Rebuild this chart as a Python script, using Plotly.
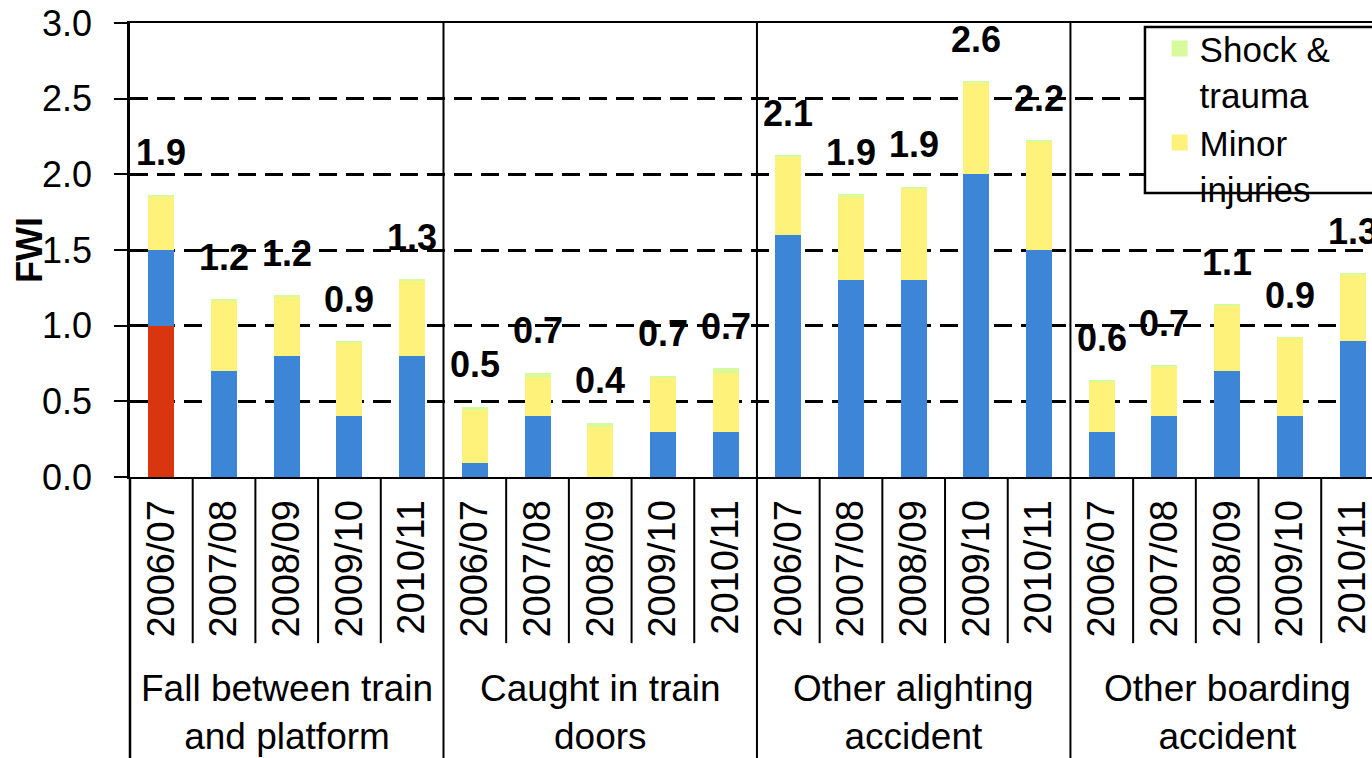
import plotly.graph_objects as go

# Accident categories and financial years
groups = ["Fall between train<br>and platform", "Caught in train<br>doors",
          "Other alighting<br>accident", "Other boarding<br>accident"]
years = ["2006/07", "2007/08", "2008/09", "2009/10", "2010/11"]

# FWI by harm type, one value per (group, year), groups in order above
fatalities = [1.0, 0, 0, 0, 0,
              0, 0, 0, 0, 0,
              0, 0, 0, 0, 0,
              0, 0, 0, 0, 0]
major_injuries = [0.5, 0.7, 0.8, 0.4, 0.8,
                  0.095, 0.4, 0.0, 0.3, 0.3,
                  1.6, 1.3, 1.3, 2.0, 1.5,
                  0.3, 0.4, 0.7, 0.4, 0.9]
minor_injuries = [0.355, 0.465, 0.39, 0.49, 0.5,
                  0.35, 0.26, 0.33, 0.36, 0.39,
                  0.515, 0.555, 0.605, 0.605, 0.72,
                  0.33, 0.33, 0.435, 0.52, 0.435]
shock_trauma = [0.01, 0.01, 0.01, 0.008, 0.008,
                0.02, 0.03, 0.03, 0.01, 0.03,
                0.01, 0.013, 0.013, 0.01, 0.003,
                0.007, 0.007, 0.008, 0.003, 0.007]

RED = "#D9350F"
BLUE = "#3D85D6"
YELLOW = "#FFF27B"
GREEN = "#D6FA9C"
FONT = "Liberation Sans, Arial, sans-serif"

n_years = len(years)
n_groups = len(groups)
xs = list(range(n_years * n_groups))
ticktext = years * n_groups
totals = [f + m + mi + s for f, m, mi, s in
          zip(fatalities, major_injuries, minor_injuries, shock_trauma)]

fig = go.Figure()
for name, vals, col in [("Fatalities", fatalities, RED),
                        ("Major injuries", major_injuries, BLUE),
                        ("Minor injuries", minor_injuries, YELLOW),
                        ("Shock & trauma", shock_trauma, GREEN)]:
    fig.add_trace(go.Bar(x=xs, y=vals, name=name, marker_color=col,
                         marker_line_width=0, showlegend=False,
                         legendgroup=name))

# legend keys (larger squares than the default bar swatch)
for name, label, col in [("Shock & trauma", "Shock &<br>trauma", GREEN),
                         ("Minor injuries", "Minor<br>injuries", YELLOW)]:
    fig.add_trace(go.Scatter(x=[None], y=[None], mode="markers", name=label,
                             legendgroup=name,
                             marker=dict(symbol="square", size=16, color=col)))

# total labels above each stack
for x, t in zip(xs, totals):
    fig.add_annotation(x=x, y=t, text=f"<b>{t:.1f}</b>", showarrow=False,
                       yshift=42, yanchor="middle",
                       font=dict(family=FONT, size=36, color="black"))

# group labels under the year labels
for g, label in enumerate(groups):
    fig.add_annotation(x=g * n_years + (n_years - 1) / 2, y=-0.518,
                       xref="x", yref="paper", text=label, showarrow=False,
                       yanchor="middle", xanchor="center",
                       font=dict(family=FONT, size=37, color="black"))

# y axis title
fig.add_annotation(x=-0.0813, y=0.5, xref="paper", yref="paper",
                   text="<b>FWI</b>", textangle=-90, showarrow=False,
                   xanchor="center", yanchor="middle",
                   font=dict(family=FONT, size=36, color="black"))

shapes = []
# separators between years (label band) and between groups (full height)
for i in range(1, n_years * n_groups):
    xb = i - 0.5
    if i % n_years == 0:
        shapes.append(dict(type="line", xref="x", yref="paper", x0=xb, x1=xb,
                           y0=-0.62, y1=1, line=dict(color="black", width=2)))
    else:
        shapes.append(dict(type="line", xref="x", yref="paper", x0=xb, x1=xb,
                           y0=-0.366, y1=0, line=dict(color="black", width=2)))
# left edge carried down through the label band
shapes.append(dict(type="line", xref="paper", yref="paper", x0=0, x1=0,
                   y0=-0.62, y1=0, line=dict(color="black", width=2.5)))
# legend frame
shapes.append(dict(type="rect", xref="paper", yref="paper", x0=0.8172, x1=1.05,
                   y0=0.6256, y1=0.9912, fillcolor="white",
                   line=dict(color="black", width=2.5), layer="above"))

fig.update_layout(
    width=1372, height=758,
    margin=dict(l=130, r=0, t=23, b=281),
    paper_bgcolor="white", plot_bgcolor="white",
    barmode="stack", bargap=0.585,
    font=dict(family=FONT, color="black"),
    shapes=shapes,
    legend=dict(x=0.829, y=1.008, xanchor="left", yanchor="top",
                bgcolor="rgba(0,0,0,0)", borderwidth=0, valign="top",
                font=dict(family=FONT, size=35, color="black"),
                itemsizing="trace", tracegroupgap=0),
)
fig.update_xaxes(range=[-0.5, 19.31], tickmode="array", tickvals=xs,
                 ticktext=ticktext, tickangle=-90, ticks="",
                 showline=True, mirror=True, linecolor="black", linewidth=2,
                 showgrid=False, zeroline=False, ticklabelstandoff=6,
                 ticklabeloverflow="allow",
                 tickfont=dict(family=FONT, size=38, color="black"))
fig.update_yaxes(range=[0, 3], dtick=0.5, tickformat=".1f",
                 showgrid=True, gridcolor="black", gridwidth=2.5,
                 griddash="18px,9px", showline=True, linecolor="black",
                 linewidth=2.5, ticks="outside", ticklen=13, tickwidth=2,
                 tickcolor="black", zeroline=False, ticklabelstandoff=15,
                 tickfont=dict(family=FONT, size=36, color="black"))

fig.write_html("out.html")
